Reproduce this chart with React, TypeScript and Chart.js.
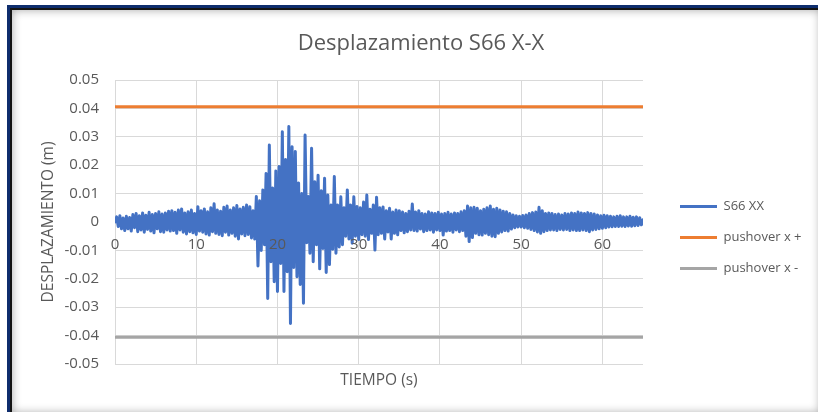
import React, { useEffect, useRef } from 'react';
import { Chart, registerables } from 'chart.js';

Chart.register(...registerables);

const TITLE = 'Desplazamiento S66 X-X';
const X_TITLE = 'TIEMPO (s)';
const Y_TITLE = 'DESPLAZAMIENTO (m)';
const SERIES_NAMES = ['S66 XX', 'pushover x +', 'pushover x -'];
const SERIES_COLORS = ['#4472C4', '#ED7D31', '#A5A5A5'];

const SAMPLE_INTERVAL_S = 0.2;
const X_MIN = 0;
const X_MAX = 65;
const Y_MIN = -0.05;
const Y_MAX = 0.05;

// displacement (m), one sample every 0.2 s from t = 0 to 65 s
const S66_XX = [
  0.0000, 0.0018, -0.0016, 0.0022, -0.0024,
  0.0014, -0.0030, 0.0020, -0.0024, 0.0016,
  -0.0032, 0.0026, -0.0020, 0.0030, -0.0034,
  0.0022, -0.0028, 0.0032, -0.0036, 0.0024,
  -0.0026, 0.0034, -0.0032, 0.0026, -0.0038,
  0.0030, -0.0024, 0.0036, -0.0034, 0.0028,
  -0.0036, 0.0032, -0.0028, 0.0038, -0.0032,
  0.0040, -0.0030, 0.0034, -0.0040, 0.0042,
  -0.0028, 0.0046, -0.0036, 0.0032, -0.0042,
  0.0036, -0.0034, 0.0042, -0.0038, 0.0030,
  -0.0044, 0.0054, -0.0032, 0.0040, -0.0036,
  0.0046, -0.0042, 0.0036, -0.0046, 0.0050,
  -0.0034, 0.0064, -0.0040, 0.0042, -0.0044,
  0.0038, -0.0048, 0.0052, -0.0036, 0.0056,
  -0.0046, 0.0042, -0.0040, 0.0050, -0.0050,
  0.0058, -0.0060, 0.0046, -0.0042, 0.0052,
  -0.0048, 0.0060, -0.0044, 0.0054, -0.0056,
  0.0040, -0.0060, 0.0090, -0.0155, 0.0075,
  -0.0100, 0.0113, -0.0080, 0.0171, -0.0269,
  0.0271, -0.0140, 0.0120, -0.0210, 0.0180,
  -0.0245, 0.0195, -0.0146, 0.0318, -0.0245,
  0.0220, -0.0175, 0.0336, -0.0357, 0.0265,
  -0.0160, 0.0248, -0.0193, 0.0137, -0.0220,
  0.0100, -0.0286, 0.0306, -0.0073, 0.0090,
  -0.0110, 0.0260, -0.0140, 0.0142, -0.0080,
  0.0165, -0.0165, 0.0110, -0.0093, 0.0154,
  -0.0178, 0.0095, -0.0150, 0.0060, -0.0096,
  0.0160, -0.0110, 0.0060, -0.0088, 0.0089,
  -0.0080, 0.0050, -0.0050, 0.0113, -0.0060,
  0.0060, -0.0075, 0.0089, -0.0050, 0.0055,
  -0.0062, 0.0050, -0.0045, 0.0070, -0.0050,
  0.0095, -0.0062, 0.0045, -0.0040, 0.0060,
  -0.0099, 0.0087, -0.0045, 0.0050, -0.0040,
  0.0053, -0.0060, 0.0040, -0.0035, 0.0048,
  -0.0060, 0.0035, -0.0040, 0.0042, -0.0045,
  0.0040, -0.0030, 0.0035, -0.0038, 0.0030,
  -0.0034, 0.0038, -0.0028, 0.0063, -0.0030,
  0.0035, -0.0032, 0.0040, -0.0025, 0.0030,
  -0.0034, 0.0028, -0.0030, 0.0036, -0.0028,
  0.0032, -0.0036, 0.0030, -0.0028, 0.0034,
  -0.0030, 0.0028, -0.0046, 0.0030, -0.0032,
  0.0034, -0.0030, 0.0028, -0.0036, 0.0032,
  -0.0028, 0.0030, -0.0034, 0.0036, -0.0030,
  0.0040, -0.0050, 0.0056, -0.0069, 0.0050,
  -0.0055, 0.0052, -0.0040, 0.0048, -0.0045,
  0.0040, -0.0046, 0.0045, -0.0040, 0.0050,
  -0.0045, 0.0056, -0.0050, 0.0045, -0.0052,
  0.0048, -0.0040, 0.0042, -0.0035, 0.0038,
  -0.0030, 0.0036, -0.0032, 0.0030, -0.0025,
  0.0025, -0.0020, 0.0022, -0.0018, 0.0020,
  -0.0018, 0.0023, -0.0020, 0.0025, -0.0022,
  0.0030, -0.0026, 0.0033, -0.0030, 0.0035,
  -0.0035, 0.0052, -0.0040, 0.0040, -0.0034,
  0.0030, -0.0030, 0.0032, -0.0028, 0.0030,
  -0.0028, 0.0026, -0.0030, 0.0028, -0.0026,
  0.0025, -0.0028, 0.0030, -0.0026, 0.0028,
  -0.0030, 0.0032, -0.0028, 0.0030, -0.0030,
  0.0035, -0.0030, 0.0032, -0.0028, 0.0030,
  -0.0030, 0.0033, -0.0034, 0.0030, -0.0028,
  0.0028, -0.0026, 0.0025, -0.0024, 0.0022,
  -0.0022, 0.0024, -0.0020, 0.0022, -0.0018,
  0.0020, -0.0017, 0.0018, -0.0016, 0.0020,
  -0.0016, 0.0022, -0.0015, 0.0018, -0.0016,
  0.0018, -0.0014, 0.0020, -0.0015, 0.0017,
  -0.0013, 0.0018, -0.0012, 0.0015, -0.0010,
  0.0008,
];

const PUSHOVER_T = [0, 65];
const PUSHOVER_POS = [0.0406, 0.0406];
const PUSHOVER_NEG = [-0.0406, -0.0406];

const TEXT_COLOR = '#595959';
const GRID_COLOR = '#D9D9D9';
const FONT = "'Open Sans', 'Noto Sans', sans-serif";

// layout tuning (canvas pixels)
const LEGEND_GAP = 19;
const TITLE_CENTER_X = 407;

const layoutTweak = {
  id: 'layoutTweak',
  afterLayout(chart: any) {
    const lg = chart.legend;
    if (lg) {
      lg.left += LEGEND_GAP;
      lg.right += LEGEND_GAP;
    }
    const tb = chart.titleBlock;
    if (tb) {
      const half = (tb.right - tb.left) / 2;
      tb.left = TITLE_CENTER_X - half;
      tb.right = TITLE_CENTER_X + half;
    }
  },
};

export default function App() {
  const ref = useRef<HTMLCanvasElement | null>(null);

  useEffect(() => {
    if (!ref.current) return;
    const s66 = S66_XX.map((v, i) => ({ x: i * SAMPLE_INTERVAL_S, y: v }));
    const pos = PUSHOVER_T.map((t, i) => ({ x: t, y: PUSHOVER_POS[i] }));
    const neg = PUSHOVER_T.map((t, i) => ({ x: t, y: PUSHOVER_NEG[i] }));

    const chart = new Chart(ref.current, {
      type: 'line',
      plugins: [layoutTweak],
      data: {
        datasets: [
          { label: SERIES_NAMES[0], data: s66, borderColor: SERIES_COLORS[0], backgroundColor: SERIES_COLORS[0], borderWidth: 3, borderJoinStyle: 'round', borderCapStyle: 'round', pointRadius: 0, tension: 0 },
          { label: SERIES_NAMES[1], data: pos, borderColor: SERIES_COLORS[1], backgroundColor: SERIES_COLORS[1], borderWidth: 3, pointRadius: 0 },
          { label: SERIES_NAMES[2], data: neg, borderColor: SERIES_COLORS[2], backgroundColor: SERIES_COLORS[2], borderWidth: 3, pointRadius: 0 },
        ],
      },
      options: {
        animation: false,
        responsive: false,
        events: [],
        layout: { padding: { left: 0, right: 34, top: 0, bottom: 0 } },
        font: { family: FONT },
        plugins: {
          tooltip: { enabled: false },
          title: {
            display: true,
            text: TITLE,
            color: TEXT_COLOR,
            font: { family: FONT, size: 22, weight: 'normal' },
            padding: { top: 18.3, bottom: 23.3 },
          },
          legend: {
            display: true,
            position: 'right',
            fullSize: false,
            maxWidth: 140,
            title: { display: true, text: ' ', padding: 9.5, font: { size: 10 } },
            labels: {
              color: TEXT_COLOR,
              font: { family: FONT, size: 13 },
              usePointStyle: true,
              pointStyle: 'line',
              pointStyleWidth: 37,
              boxWidth: 37,
              padding: 18,
              generateLabels: (c: any) =>
                Chart.defaults.plugins.legend.labels.generateLabels(c).map((l: any) => ({ ...l, lineWidth: 3, pointStyle: 'line' })),
            },
          },
        },
        scales: {
          x: {
            type: 'linear',
            position: { y: 0 } as any,
            min: X_MIN,
            max: X_MAX,
            grid: { color: GRID_COLOR, lineWidth: 1, drawTicks: false },
            border: { display: false },
            ticks: {
              stepSize: 10,
              includeBounds: false,
              color: TEXT_COLOR,
              font: { family: FONT, size: 15 },
              padding: 14,
              maxRotation: 0,
              autoSkip: false,
              z: 1,
              callback: (v: any) => String(v),
            },
          },
          x2: {
            type: 'linear',
            axis: 'x',
            position: 'bottom',
            display: true,
            grid: { display: false },
            border: { display: false },
            ticks: { display: false },
            title: {
              display: true,
              text: X_TITLE,
              color: TEXT_COLOR,
              font: { family: FONT, size: 15.5 },
              padding: { top: 0, bottom: 9.7 },
            },
            afterFit: (s: any) => { s.height = 36; },
          },
          y: {
            type: 'linear',
            position: 'left',
            min: Y_MIN,
            max: Y_MAX,
            grid: { color: GRID_COLOR, lineWidth: 1, drawTicks: false },
            border: { display: false },
            ticks: {
              stepSize: 0.01,
              color: TEXT_COLOR,
              font: { family: FONT, size: 15 },
              padding: 16,
              autoSkip: false,
              callback: (v: any) => (Math.abs(Number(v)) < 1e-9 ? '0' : Number(v).toFixed(2)),
            },
            title: {
              display: true,
              text: Y_TITLE,
              color: TEXT_COLOR,
              font: { family: FONT, size: 15.5 },
              padding: { top: 25, bottom: 0 },
            },
            afterFit: (s: any) => { s.width = 101; },
          },
        },
      } as any,
    });
    return () => chart.destroy();
  }, []);

  return (
    <div style={{ position: 'fixed', left: 0, top: 0, width: 818, height: 412, overflow: 'hidden', background: '#fff' }}>
      <div style={{ position: 'absolute', left: 7, top: 5, width: 840, height: 440, borderLeft: '3px solid #0e2d6d', borderTop: '3px solid #0e2d6d', boxSizing: 'border-box' }}>
        <div style={{ position: 'absolute', left: 0, top: 0, right: 0, bottom: 0, borderLeft: '2px solid #141414', borderTop: '2px solid #141414' }} />
      </div>
      <div style={{ position: 'absolute', left: 12, top: 10, width: 808, height: 403, background: '#fff', boxShadow: 'inset 0 0 10px rgba(0,0,0,0.35)' }} />
      <div style={{ position: 'absolute', left: 14, top: 12, width: 803, height: 388 }}>
        <canvas ref={ref} width={803} height={388} style={{ display: 'block', width: 803, height: 388 }} />
      </div>
    </div>
  );
}
